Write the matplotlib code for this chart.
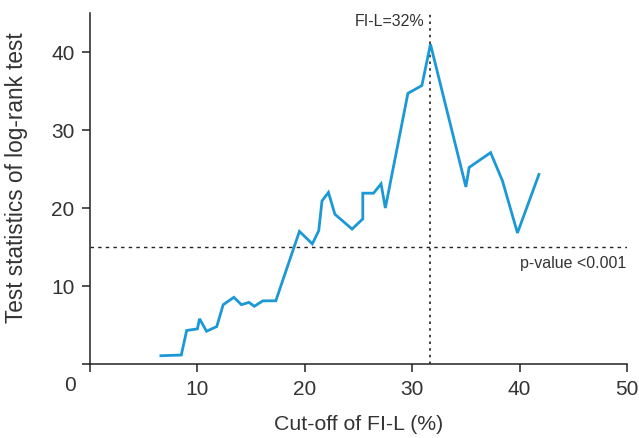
import matplotlib
matplotlib.use("Agg")
import matplotlib.pyplot as plt

# cut-off of FI-L (%) vs log-rank test statistic
cutoff = [6.6, 8.5, 9.0, 10.0, 10.2, 10.85, 11.8, 12.4, 13.4, 14.1, 14.8, 15.3,
          16.1, 17.3, 19.5, 20.7, 21.3, 21.6, 22.2, 22.8, 24.4, 25.4, 25.4, 26.4,
          27.1, 27.5, 29.6, 30.9, 31.7, 35.0, 35.3, 37.3, 38.4, 39.8, 41.8]
stat = [1.06, 1.15, 4.3, 4.5, 5.8, 4.2, 4.8, 7.6, 8.55, 7.6, 7.9, 7.4,
        8.1, 8.1, 17.0, 15.4, 17.1, 20.9, 22.0, 19.2, 17.3, 18.6, 21.9, 21.9,
        23.1, 20.0, 34.7, 35.7, 41.0, 22.7, 25.2, 27.1, 23.5, 16.8, 24.3]

best_cutoff = 31.7
p_threshold = 15.0
xticks = [10, 20, 30, 40, 50]
yticks = [10, 20, 30, 40]

plt.rcParams["font.family"] = ["Liberation Sans", "DejaVu Sans"]

fig = plt.figure(figsize=(6.39, 4.39), dpi=100)
ax = fig.add_axes([90 / 639, 1 - 365 / 439, 537 / 639, 351 / 439])

ax.plot(cutoff, stat, color="#1b98d6", lw=2.0, solid_joinstyle="miter", zorder=3)
ax.axhline(p_threshold, color="#222222", lw=1.0, ls=(0, (2.5, 3)), zorder=2)
ax.axvline(best_cutoff, color="#222222", lw=1.2, ls=(0, (1.5, 2.5)), zorder=2)

ax.text(best_cutoff - 0.6, 44.0, "FI-L=32%", ha="right", va="center",
        fontsize=11.5, color="#333333")
ax.text(49.9, 13.0, "p-value <0.001", ha="right", va="center",
        fontsize=11.5, color="#333333")

ax.set_xlim(0, 50)
ax.set_ylim(0, 45)
ax.set_xticks([0] + xticks)
ax.set_xticklabels([""] + [str(t) for t in xticks])
ax.set_yticks([0] + yticks)
ax.set_yticklabels([""] + [str(t) for t in yticks])
ax.text(-1.9, -2.6, "0", ha="center", va="center", fontsize=15, color="#333333",
        clip_on=False)

for side in ("top", "right"):
    ax.spines[side].set_visible(False)
for side in ("left", "bottom"):
    ax.spines[side].set_linewidth(1.1)
    ax.spines[side].set_color("#222222")
ax.tick_params(direction="out", length=6, width=1.1, color="#222222",
               labelsize=15, labelcolor="#333333", pad=5)

ax.set_xlabel("Cut-off of FI-L (%)", fontsize=15.3, color="#333333")
ax.set_ylabel("Test statistics of log-rank test", fontsize=16.3, color="#333333")
ax.xaxis.set_label_coords(0.5, -0.142)
ax.yaxis.set_label_coords(-0.116, 0.535)

fig.savefig("out.png", dpi=100)
